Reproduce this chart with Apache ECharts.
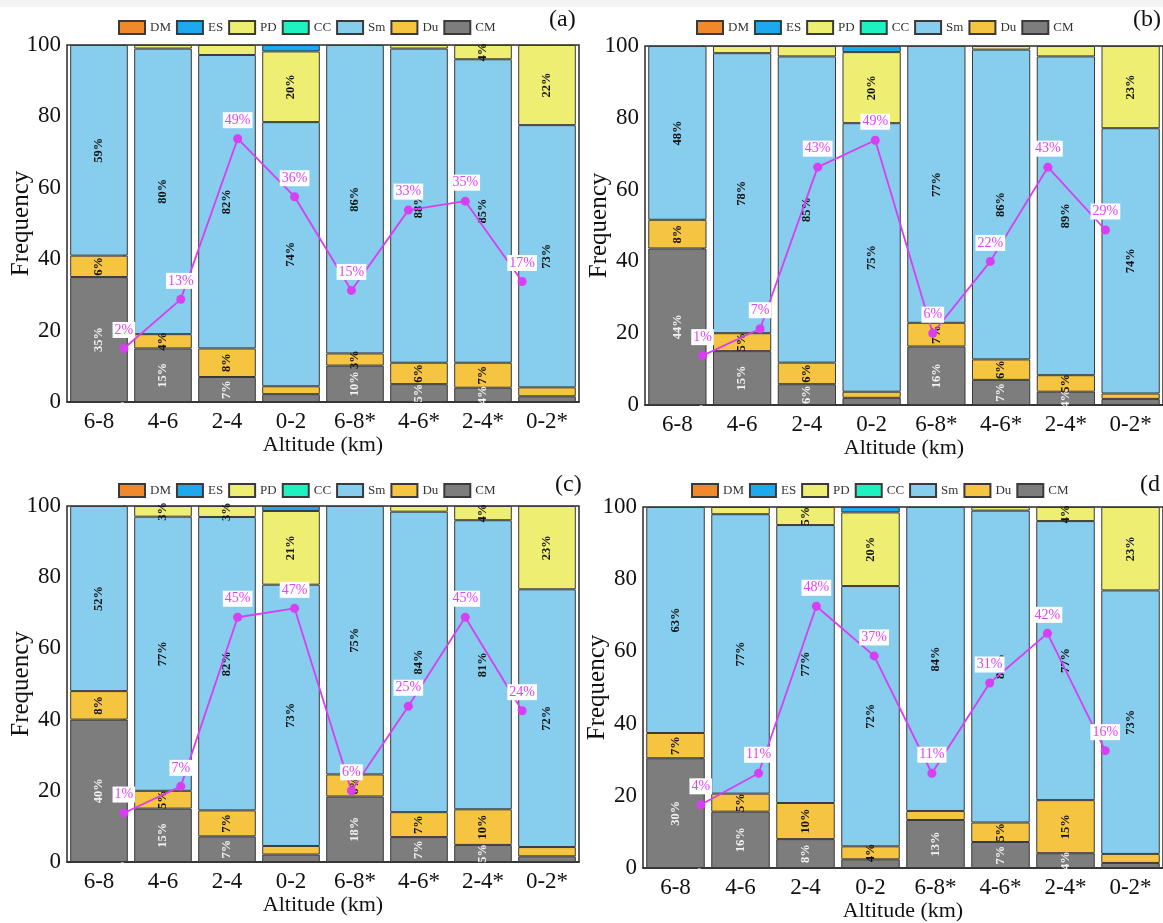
<!DOCTYPE html>
<html>
<head>
<meta charset="utf-8">
<script src="https://cdn.jsdelivr.net/npm/echarts@6/dist/echarts.min.js"></script>
<style>
  html, body { margin: 0; padding: 0; background: #ffffff; }
  #chart { width: 1163px; height: 923px; }
</style>
</head>
<body>
<div id="chart"></div>
<script>
// Altitude bins (km); starred bins form the second group
const categories = ['6-8', '4-6', '2-4', '0-2', '6-8*', '4-6*', '2-4*', '0-2*'];
const yTickLabels = ['0', '20', '40', '60', '80', '100'];
const legendNames = ['DM', 'ES', 'PD', 'CC', 'Sm', 'Du', 'CM'];

// Panel (a) frequencies (%)
const cmA = [35, 15, 7, 2.2, 10.2, 5, 4, 1.6];
const duA = [6, 4, 8, 2.2, 3.4, 6, 7, 2.5];
const smA = [59, 80, 82.2, 74, 86.4, 88, 85, 73.45];
const pdA = [0, 1, 2.8, 19.8, 0, 1, 4, 22.45];
const esA = [0, 0, 0, 1.8, 0, 0, 0, 0];
const lineA = [2, 13, 49, 36, 15, 33, 35, 17];

// Panel (b)
const cmB = [43.6, 15, 5.8, 2, 16.3, 7, 3.7, 1.7];
const duB = [8, 5, 6, 1.7, 6.6, 5.7, 4.6, 1.5];
const smB = [48.4, 78, 85.3, 74.8, 77.1, 86.3, 88.8, 73.9];
const pdB = [0, 2, 2.9, 19.8, 0, 1, 2.9, 22.9];
const esB = [0, 0, 0, 1.7, 0, 0, 0, 0];
const lineB = [1, 7, 43, 49, 6, 22, 43, 29];

// Panel (c)
const cmC = [40, 15, 7.2, 2.1, 18.4, 7, 4.8, 1.6];
const duC = [8, 5, 7.3, 2.4, 6.2, 7, 10, 2.6];
const smC = [52, 77, 82.4, 73.4, 75.4, 84.4, 81.2, 72.4];
const pdC = [0, 3, 3.1, 20.7, 0, 1.6, 4, 23.4];
const esC = [0, 0, 0, 1.4, 0, 0, 0, 0];
const lineC = [1, 7, 45, 47, 6, 25, 45, 24];

// Panel (d)
const cmD = [30.4, 15.6, 8, 2.4, 13.3, 7.2, 4.1, 1.4];
const duD = [7, 5, 10, 3.6, 2.5, 5.4, 14.7, 2.5];
const smD = [62.6, 77.4, 77, 72.1, 84.2, 86.4, 77.3, 73];
const pdD = [0, 2, 5, 20.4, 0, 1, 3.9, 23.1];
const esD = [0, 0, 0, 1.5, 0, 0, 0, 0];
const lineD = [4, 11, 48, 37, 11, 31, 42, 16];

// Types absent from every bin
const ccValues = [0, 0, 0, 0, 0, 0, 0, 0];
const dmValues = [0, 0, 0, 0, 0, 0, 0, 0];

const FONT = '"Liberation Serif", "Times New Roman", serif';

// Stack order, bottom to top
const layers = [
  { name: 'CM', color: '#7d7d7d', text: '#f2f2f2' },
  { name: 'Du', color: '#f5c441', text: '#111111' },
  { name: 'Sm', color: '#87ceee', text: '#111111' },
  { name: 'CC', color: '#1ef2c1', text: '#111111' },
  { name: 'PD', color: '#eeee72', text: '#111111' },
  { name: 'ES', color: '#1ca9ee', text: '#111111' },
  { name: 'DM', color: '#f0892a', text: '#111111' }
];

const panels = [
  { tag: '(a)', values: { CM: cmA, Du: duA, Sm: smA, CC: ccValues, PD: pdA, ES: esA, DM: dmValues }, line: lineA,
    grid: { left: 67, top: 45, width: 512, height: 357 }, legend: { left: 113, top: 15 }, tagPos: [549, 8] },
  { tag: '(b)', values: { CM: cmB, Du: duB, Sm: smB, CC: ccValues, PD: pdB, ES: esB, DM: dmValues }, line: lineB,
    grid: { left: 645, top: 46, width: 518, height: 359 }, legend: { left: 691, top: 15 }, tagPos: [1133, 8] },
  { tag: '(c)', values: { CM: cmC, Du: duC, Sm: smC, CC: ccValues, PD: pdC, ES: esC, DM: dmValues }, line: lineC,
    grid: { left: 67, top: 506, width: 512, height: 356 }, legend: { left: 113, top: 478 }, tagPos: [555, 473] },
  { tag: '(d', values: { CM: cmD, Du: duD, Sm: smD, CC: ccValues, PD: pdD, ES: esD, DM: dmValues }, line: lineD,
    grid: { left: 643, top: 507, width: 520, height: 361 }, legend: { left: 686, top: 478 }, tagPos: [1140, 473] }
];

const grids = [], xAxes = [], yAxes = [], series = [], legends = [], graphics = [];

graphics.push({ type: 'rect', shape: { x: 0, y: 0, width: 1163, height: 7 }, style: { fill: '#f3f3f3' }, silent: true });

panels.forEach((p, i) => {
  grids.push(Object.assign({ show: true, borderColor: '#2a2a2a', borderWidth: 1.5, backgroundColor: '#ffffff' }, p.grid));

  xAxes.push({
    type: 'category', gridIndex: i, data: categories,
    axisLine: { lineStyle: { color: '#2a2a2a', width: 1.5 } },
    axisTick: { show: false },
    axisLabel: { fontFamily: FONT, fontSize: 23, color: '#111', margin: 8 },
    name: 'Altitude (km)', nameLocation: 'middle', nameGap: 30,
    nameTextStyle: { fontFamily: FONT, fontSize: 22, color: '#111' }
  });
  // Hidden index scale for the percentage line (points inset from the frame)
  xAxes.push({ type: 'value', gridIndex: i, min: -1, max: 8, show: false, splitLine: { show: false } });

  yAxes.push({
    type: 'value', gridIndex: i, min: 0, max: 100, interval: 20,
    splitLine: { show: false },
    axisLine: { show: true, lineStyle: { color: '#2a2a2a', width: 1.5 } },
    axisTick: { show: true, length: 3, lineStyle: { color: '#9aa6c0' } },
    axisLabel: { fontFamily: FONT, fontSize: 23, color: '#111', margin: 6,
      formatter: v => yTickLabels[Math.round(v / 20)] },
    name: 'Frequency', nameLocation: 'middle', nameGap: 33, nameRotate: 90,
    nameMoveOverlap: false,
    nameTextStyle: { fontFamily: FONT, fontSize: 25, color: '#111' }
  });
  // Hidden scale for the percentage line
  yAxes.push({ type: 'value', gridIndex: i, min: -10, max: 70, show: false, splitLine: { show: false } });

  layers.forEach(layer => {
    series.push({
      type: 'bar', name: layer.name, xAxisIndex: 2 * i, yAxisIndex: 2 * i, stack: 'panel' + i,
      barCategoryGap: '10%',
      data: p.values[layer.name].map(v => (v > 0 ? v : null)),
      itemStyle: { color: layer.color, borderColor: '#3a3a3a', borderWidth: 1 },
      label: {
        show: true, position: 'inside', rotate: 90,
        fontFamily: FONT, fontSize: 12.5, fontWeight: 'bold', color: layer.text,
        formatter: d => (d.value >= 3 ? Math.round(d.value) + '%' : '')
      },
      emphasis: { disabled: true }
    });
  });

  series.push({
    type: 'line', name: 'ratio', xAxisIndex: 2 * i + 1, yAxisIndex: 2 * i + 1,
    data: p.line.map((v, k) => [k, v]), z: 10,
    symbol: 'circle', symbolSize: 9,
    itemStyle: { color: '#d83ef2' },
    lineStyle: { color: '#d83ef2', width: 1.8 },
    label: {
      show: true, position: 'top', distance: 6,
      formatter: d => d.value[1] + '%', fontFamily: FONT, fontSize: 14, color: '#e244f5',
      backgroundColor: '#ffffff', padding: [1, 2]
    },
    emphasis: { disabled: true }
  });

  legends.push({
    data: legendNames, left: p.legend.left, top: p.legend.top,
    icon: 'rect', itemWidth: 26, itemHeight: 13, itemGap: 5, selectedMode: false,
    textStyle: { fontFamily: FONT, fontSize: 13, color: '#333' }
  });

  graphics.push({
    type: 'text', left: p.tagPos[0], top: p.tagPos[1],
    style: { text: p.tag, font: '24px ' + FONT, fill: '#111' }
  });
});

const chart = echarts.init(document.getElementById('chart'), null, { renderer: 'canvas' });
chart.setOption({
  backgroundColor: '#ffffff',
  animation: false,
  grid: grids,
  xAxis: xAxes,
  yAxis: yAxes,
  legend: legends,
  series: series,
  graphic: graphics
});
</script>
</body>
</html>
